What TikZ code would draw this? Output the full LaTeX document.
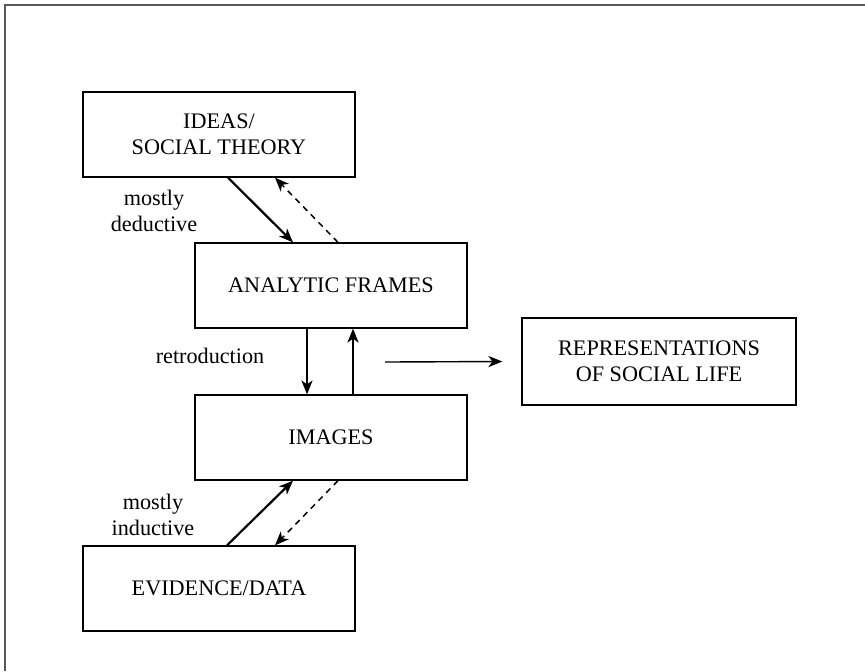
\documentclass[tikz,border=0pt]{standalone}
\usepackage{fontspec}
\setmainfont{Liberation Serif}
\usetikzlibrary{arrows.meta}

\begin{document}
\begin{tikzpicture}[x=0.5pt, y=-0.5pt,
  box/.style={rectangle, draw, line width=0.65pt, minimum width=136pt, minimum height=42.5pt, align=center, font=\fontsize{11.1}{13}\selectfont, inner sep=0pt},
  lbl/.style={align=center, font=\fontsize{11.1}{13}\selectfont},
  >={Stealth[length=7pt, width=5.6pt, inset=2pt]}]
\useasboundingbox (0,0) rectangle (865,671);
\draw[color=black!65, line width=0.8pt] (5,671) -- (5,5) -- (865,5);
\node[box] (ideas) at (219,134.5) {IDEAS/\\SOCIAL THEORY};
\node[box] (frames) at (331,285.5) {ANALYTIC FRAMES};
\node[box] (images) at (331,437.5) {IMAGES};
\node[box] (evidence) at (219,588.5) {EVIDENCE/DATA};
\node[box, minimum width=137pt, minimum height=43.5pt] (reps) at (659,361.5) {REPRESENTATIONS\\OF SOCIAL LIFE};
\node[lbl] (ded) at (154,211) {mostly\\deductive};
\node[lbl] (retro) at (210,356) {retroduction};
\node[lbl] (ind) at (153,515) {mostly\\inductive};
\coordinate (out) at (385,362);
\draw[->, line width=1.1pt] ([xshift=4.5pt]ideas.south) -- ([xshift=-19pt]frames.north);
\draw[->, dashed, dash pattern=on 3pt off 2.5pt, line width=0.75pt] ([xshift=3.5pt]frames.north) -- ([xshift=28pt]ideas.south);
\draw[->, line width=0.7pt] ([xshift=-12pt]frames.south) -- ([xshift=-12pt]images.north);
\draw[->, line width=0.7pt] ([xshift=11pt]images.north) -- ([xshift=11pt]frames.south);
\draw[->, line width=0.7pt] (out) -- ([xshift=-9.5pt]reps.west);
\draw[->, line width=1.1pt] ([xshift=4pt]evidence.north) -- ([xshift=-19pt]images.south);
\draw[->, dashed, dash pattern=on 3pt off 2.5pt, line width=0.75pt] ([xshift=3.5pt]images.south) -- ([xshift=28pt]evidence.north);
\end{tikzpicture}
\end{document}
